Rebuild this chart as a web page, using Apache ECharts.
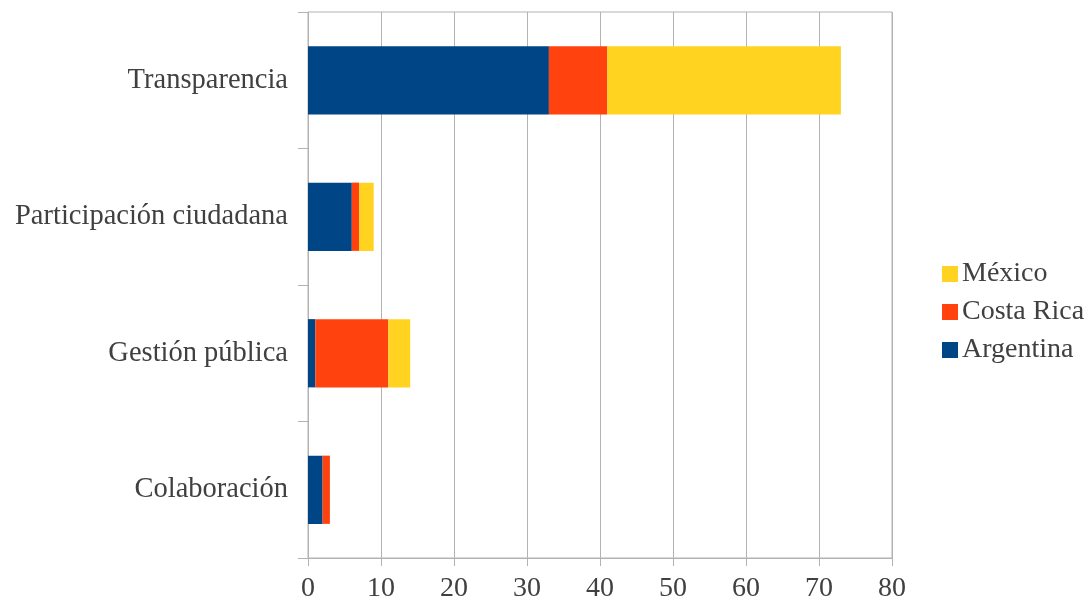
<!DOCTYPE html>
<html><head><meta charset="utf-8">
<script src="https://cdn.jsdelivr.net/npm/echarts@6/dist/echarts.min.js"></script>
<style>html,body{margin:0;padding:0;background:#fff}#c{width:1090px;height:603px}</style>
</head><body><div id="c"></div>
<script>
const categories = ['Colaboración', 'Gestión pública', 'Participación ciudadana', 'Transparencia'];
const argentina = [2, 1, 6, 33];
const costaRica = [1, 10, 1, 8];
const mexico = [0, 3, 2, 32];
const xTicks = { min: 0, max: 80, interval: 10 };
const legendOrder = ['México', 'Costa Rica', 'Argentina'];

const font = 'Liberation Serif';
const txt = '#404040';
const lineC = '#b3b3b3';
const chart = echarts.init(document.getElementById('c'));
chart.setOption({
  animation: false,
  color: ['#004586', '#ff420e', '#ffd320'],
  grid: { left: 308, right: 198, top: 12, bottom: 43, show: true, borderColor: lineC, borderWidth: 1, backgroundColor: 'transparent' },
  legend: {
    orient: 'vertical', left: 937, top: 255, itemWidth: 16, itemHeight: 16, itemGap: 10,
    data: legendOrder, icon: 'rect',
    textStyle: { fontFamily: font, fontSize: 28, color: txt, padding: [0, 0, 0, -1] }
  },
  xAxis: {
    type: 'value', min: xTicks.min, max: xTicks.max, interval: xTicks.interval,
    axisLine: { show: true, lineStyle: { color: lineC, width: 1 } },
    axisTick: { show: true, length: 8, lineStyle: { color: lineC } },
    splitLine: { show: true, lineStyle: { color: lineC, width: 1 } },
    axisLabel: { fontFamily: font, fontSize: 28, color: txt, margin: 17 }
  },
  yAxis: {
    type: 'category', data: categories,
    axisLine: { show: true, lineStyle: { color: lineC } },
    axisTick: { show: true, length: 10, lineStyle: { color: lineC } },
    axisLabel: { fontFamily: font, fontSize: 28.5, color: txt, margin: 20 }
  },
  series: [
    { name: 'Argentina', type: 'bar', stack: 's', data: argentina, barWidth: '50%' },
    { name: 'Costa Rica', type: 'bar', stack: 's', data: costaRica, barWidth: '50%' },
    { name: 'México', type: 'bar', stack: 's', data: mexico, barWidth: '50%' }
  ]
});
</script></body></html>
